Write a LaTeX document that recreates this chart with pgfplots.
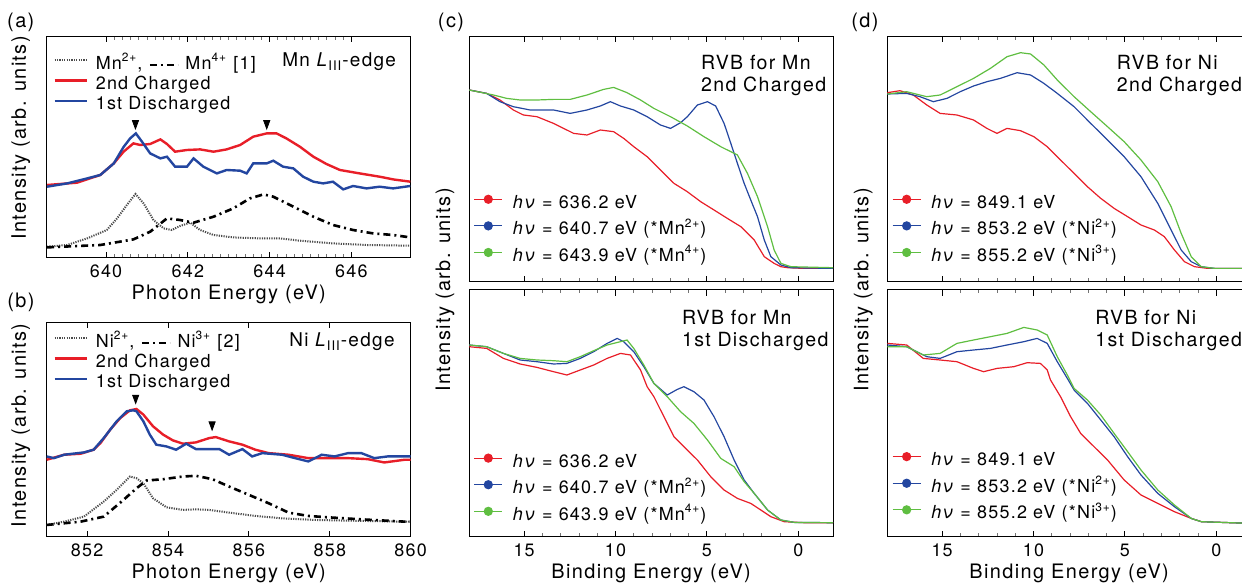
\documentclass[border=0pt]{standalone}
\usepackage{fontspec}
\setmainfont{TeX Gyre Heros}[LetterSpace=7]
\usepackage{pgfplots}
\pgfplotsset{compat=1.18}
\definecolor{cRed}{RGB}{232,30,40}
\definecolor{cBlue}{RGB}{35,70,160}
\definecolor{cGreen}{RGB}{95,190,65}
\newcommand{\fsz}[1]{\fontsize{#1}{#1}\selectfont}
\tikzset{rvbtext/.style={anchor=base west, font=\fsz{9.8}}}
\pgfplotsset{
  panel/.style={
    scale only axis, clip=false,
    axis line style={line width=0.5bp},
    ytick=\empty,
    tick align=inside,
    major tick length=2.6bp, minor tick length=1.7bp,
    every major tick/.append style={line width=0.45bp, black},
    every minor tick/.append style={line width=0.4bp, black!55},
    tick label style={font=\fsz{9}},
    /pgf/number format/assume math mode=true,
    label style={font=\fsz{10}},
    legend cell align=left,
  },
  xaslegend/.style={
    legend style={draw=none, fill=none, inner sep=0pt, font=\fsz{9},
      row sep=0.6bp, column sep=4bp,
      nodes={inner sep=0pt, text height=7bp, text depth=2.5bp}},
    legend image code/.code={\draw[##1] (0bp,2.3bp) -- (16bp,2.3bp);},
  },
  rvblegend/.style={
    legend style={draw=none, fill=none, inner sep=0pt, font=\fsz{9},
      row sep=3.8bp, column sep=5bp,
      nodes={inner sep=0pt, text height=7bp, text depth=2.5bp}},
    legend image code/.code={\draw[##1] (0bp,2.3bp) -- (14bp,2.3bp); \fill[##1] (7bp,2.3bp) circle (2bp);},
  },
  rvb/.style={panel, x dir=reverse, xmin=-1.9, xmax=18, xtick={0,5,10,15}, minor x tick num=4,
    width=181.85bp, major tick length=2.8bp},
  dotl/.style={line width=1bp, color=black!70, dash pattern=on 0.6bp off 0.6bp},
  dashdotl/.style={line width=1.3bp, color=black, dash pattern=on 3.5bp off 2bp on 1bp off 2bp},
  thickl/.style={line width=1.2bp},
  thinl/.style={line width=0.6bp},
}
\begin{document}
\begin{tikzpicture}
\useasboundingbox (0,0) rectangle (621bp,292.5bp);

% ---------------- (a) ----------------
\begin{axis}[panel, xaslegend, at={(23.35bp,163.65bp)}, anchor=south west,
  width=182bp, height=110.5bp,
  xmin=638.55, xmax=647.45, ymin=0, ymax=221,
  xtick={640,642,644,646}, minor x tick num=9,
  xlabel={Photon Energy (eV)}, ylabel={Intensity (arb. units)},
  xlabel style={at={(axis description cs:0.5,-0.165)}, anchor=center},
  ylabel style={at={(axis description cs:-0.071,0.542)}, anchor=center},
  legend style={at={(axis description cs:0.0173,0.917)}, anchor=north west}]
\addplot[dotl] coordinates {(638.56,11)(639.05,12.7)(639.54,19.3)(640.02,27.7)(640.27,39.3)(640.51,52.7)(640.72,63.7)(640.92,54.3)(641.16,37.7)(641.41,29.3)(641.61,27.7)(641.81,31.7)(642.06,35)(642.30,27.7)(642.63,22.7)(643.11,20.3)(643.76,19.3)(644.25,19.3)(644.74,17)(645.55,14.3)(646.37,12.7)(647.44,12)};
\addlegendentry{Mn\textsuperscript{2+}, \tikz[baseline=-2.3bp]\draw[line width=1.3bp, dash pattern=on 3.5bp off 2bp on 1bp off 2bp] (0,0)--(14bp,0); Mn\textsuperscript{4+} [1]}
\addplot[dashdotl, forget plot] coordinates {(638.56,10.3)(639.86,12.7)(640.67,18.3)(641.08,26)(641.49,39.3)(641.81,37.7)(642.14,35)(642.63,41)(643.11,49.3)(643.52,59.3)(643.85,63.3)(644.09,61)(644.58,51)(645.07,41)(645.55,32.7)(646.04,27.7)(646.53,24.3)(647.02,22.7)(647.44,20.3)};
\addplot[thickl, color=cRed] coordinates {(638.56,72.7)(639.29,75)(639.86,82.7)(640.19,94.3)(640.43,106)(640.67,114.3)(640.84,112.7)(641.08,113.7)(641.33,118.3)(641.49,113.7)(641.69,106)(641.98,107.7)(642.30,108.3)(642.63,106)(642.95,108.3)(643.28,112.7)(643.60,121)(643.93,124.3)(644.17,124.3)(644.41,119.3)(644.74,111)(645.07,101)(645.39,93.7)(645.72,87.7)(646.20,84.3)(646.69,81)(647.02,78.3)(647.44,76)};
\addlegendentry{2nd Charged}
\addplot[thickl, color=cBlue] coordinates {(638.56,71)(639.05,74.3)(639.54,79.3)(639.86,82.7)(640.19,94.3)(640.43,110.7)(640.59,119.3)(640.73,124.3)(640.88,116)(641.08,104.3)(641.33,99.3)(641.49,101)(641.69,91)(641.98,91)(642.14,99.3)(642.38,91)(642.71,84.3)(642.95,87.7)(643.28,87)(643.44,84.3)(643.60,94.3)(643.93,94.3)(644.09,97)(644.33,91)(644.58,89.3)(644.82,81)(645.07,76)(645.31,74.3)(645.55,76)(645.80,68.3)(646.04,71.7)(646.37,69.3)(646.69,71)(647.02,69.3)(647.44,71.7)};
\addlegendentry{1st Discharged}
\addplot[only marks, forget plot, mark=triangle*, mark size=2.2bp, mark options={rotate=180, xscale=0.8, yscale=1.25, fill=black}] coordinates {(640.72,134.3)(643.93,134.3)};
\node[anchor=base east, font=\fsz{9.5}] at (axis description cs:0.979,0.864) {Mn \textit{L}\textsubscript{III}-edge};
\end{axis}

% ---------------- (b) ----------------
\begin{axis}[panel, xaslegend, at={(23.35bp,24.15bp)}, anchor=south west,
  width=182bp, height=107bp,
  xmin=851, xmax=860, ymin=0, ymax=213.3,
  xtick={852,854,856,858,860},
  xlabel={Photon Energy (eV)}, ylabel={Intensity (arb. units)},
  xlabel style={at={(axis description cs:0.5,-0.17)}, anchor=center},
  ylabel style={at={(axis description cs:-0.071,0.52)}, anchor=center},
  legend style={at={(axis description cs:0.0173,0.951)}, anchor=north west}]
\addplot[dotl] coordinates {(851.0,11.7)(851.43,15)(851.92,20)(852.41,35)(852.73,46.7)(853.06,60)(853.22,58.3)(853.39,53.3)(853.63,38.3)(853.96,29.3)(854.37,26.7)(854.69,27.3)(855.02,26.7)(855.51,24)(856.16,20.7)(856.82,18.3)(857.63,16.7)(858.45,16)(859.85,15)(860,15)};
\addlegendentry{Ni\textsuperscript{2+}, \tikz[baseline=-2.3bp]\draw[line width=1.3bp, dash pattern=on 3.5bp off 2bp on 1bp off 2bp] (0,0)--(14bp,0); Ni\textsuperscript{3+} [2]}
\addplot[dashdotl, forget plot] coordinates {(851.0,11.7)(851.84,15)(852.41,20)(852.90,36.7)(853.22,48.3)(853.47,56)(853.88,57.3)(854.37,60)(854.69,60.7)(855.10,57.3)(855.51,50)(856.00,41.7)(856.49,33.3)(856.98,24)(857.47,20.7)(857.96,19.3)(858.78,17.3)(859.85,15)(860,15)};
\addplot[thickl, color=cRed] coordinates {(851.0,76.7)(851.43,81.7)(851.84,82.7)(852.16,86.7)(852.33,93.3)(852.57,106.7)(852.82,118.3)(853.06,126)(853.22,127.3)(853.39,121.7)(853.63,110)(853.88,101.7)(854.12,96)(854.37,92.7)(854.69,94)(855.02,98.3)(855.18,99.3)(855.51,95)(855.84,91.7)(856.16,86.7)(856.49,83.3)(856.98,81.7)(857.47,78.3)(857.96,78.3)(858.45,78.3)(858.94,77.3)(859.35,74)(859.85,76.7)(860,76.7)};
\addlegendentry{2nd Charged}
\addplot[thickl, color=cBlue] coordinates {(851.0,80)(851.18,78.3)(851.43,81.7)(851.92,84)(852.16,86.7)(852.41,98.3)(852.73,115)(852.98,125)(853.14,126)(853.22,125)(853.39,115)(853.55,101.7)(853.71,91.7)(853.96,90)(854.20,86.7)(854.45,92.7)(854.69,87.3)(855.02,87.3)(855.27,87.3)(855.51,81.7)(855.84,87.3)(856.08,80)(856.33,83.3)(856.82,81.7)(857.14,78.3)(857.47,75)(857.80,81.7)(858.12,80)(858.45,83.3)(858.78,83.3)(859.10,78.3)(859.43,80)(859.85,80)(860,80)};
\addlegendentry{1st Discharged}
\addplot[only marks, forget plot, mark=triangle*, mark size=2.2bp, mark options={rotate=180, xscale=0.8, yscale=1.25, fill=black}] coordinates {(853.2,138.3)(855.09,111.7)};
\node[anchor=base east, font=\fsz{9.5}] at (axis description cs:0.975,0.888) {Ni \textit{L}\textsubscript{III}-edge};
\end{axis}

% ---------------- (c) top ----------------
\begin{axis}[rvb, rvblegend, at={(234.65bp,151.65bp)}, anchor=south west,
  height=122.5bp, ymin=0, ymax=245, xticklabel=\empty,
  legend style={at={(axis description cs:0.011,0.358)}, anchor=north west}]
\addplot[thinl, color=cRed] coordinates {(18.0,191.7)(17.05,188.3)(16.32,181.7)(15.59,171.7)(15.04,166.7)(14.30,165)(13.39,158.3)(12.84,153.3)(12.29,148.3)(11.56,146.7)(10.83,151.7)(10.10,150)(9.55,143.3)(9.00,135)(8.27,125)(7.54,111.7)(6.80,98.3)(6.07,90)(5.34,80)(4.61,71.7)(3.88,63.3)(3.14,55)(2.41,41.7)(1.86,25)(1.32,18.3)(0.95,15)(0.58,14)(-0.33,13.3)(-1.9,13.3)};
\addlegendentry{\textit{hν} = 636.2 eV}
\addplot[thinl, color=cBlue] coordinates {(18.0,191.7)(17.05,188.3)(16.32,180)(15.59,175)(14.67,171.7)(13.39,171.7)(12.48,168.3)(11.56,171.7)(10.83,175.7)(10.28,180)(9.73,175.7)(9.00,171.7)(8.27,165)(7.54,156.7)(6.99,153.3)(6.44,159)(6.07,165)(5.52,176.7)(4.97,180)(4.52,175.7)(4.06,158.3)(3.69,138.3)(3.33,118.3)(2.96,98.3)(2.60,81.7)(2.23,65)(1.86,41.7)(1.50,25)(0.95,16.7)(0.40,14)(-1.9,13.3)};
\addlegendentry{\textit{hν} = 640.7 eV (*Mn\textsuperscript{2+})}
\addplot[thinl, color=cGreen] coordinates {(18.0,191.7)(16.68,186.7)(15.95,183.3)(15.22,181.7)(14.30,181.7)(13.39,182.3)(12.48,182.3)(11.56,186.7)(10.65,192.3)(10.10,194.3)(9.37,189)(8.63,181.7)(7.90,173.3)(6.99,165)(6.07,155.7)(5.16,145)(4.24,135)(3.33,126.7)(2.78,108.3)(2.23,85)(1.68,55)(1.32,31.7)(0.95,18.3)(0.40,15)(-1.9,14)};
\addlegendentry{\textit{hν} = 643.9 eV (*Mn\textsuperscript{4+})}
\node[rvbtext] at (axis description cs:0.618,0.867) {RVB for Mn};
\node[rvbtext] at (axis description cs:0.618,0.7755) {2nd Charged};
\end{axis}

% ---------------- (c) bottom ----------------
\begin{axis}[rvb, rvblegend, at={(234.65bp,24.15bp)}, anchor=south west,
  height=123.35bp, ymin=0, ymax=246.7,
  xlabel={Binding Energy (eV)}, ylabel={Intensity (arb. units)},
  xlabel style={at={(axis description cs:0.5,-0.147)}, anchor=center},
  ylabel style={at={(axis description cs:-0.067,1.0)}, anchor=center},
  legend style={at={(axis description cs:0.011,0.340)}, anchor=north west}]
\addplot[thinl, color=cRed] coordinates {(18.0,190)(17.05,188.3)(16.13,178.3)(15.22,172.7)(14.30,169.3)(13.39,165)(12.66,161.7)(11.93,166.7)(11.19,171.7)(10.46,178.3)(9.73,183.3)(9.18,181.7)(8.63,166.7)(8.27,150)(7.90,140)(7.35,120)(6.80,100)(6.26,90)(5.52,76.7)(4.79,60)(4.06,46.7)(3.33,38.3)(2.60,33.3)(2.05,26.7)(1.50,20)(0.77,15)(-0.33,14)(-1.9,14)};
\addlegendentry{\textit{hν} = 636.2 eV}
\addplot[thinl, color=cBlue] coordinates {(18.0,191.7)(17.05,190)(16.13,183.3)(15.22,176.7)(14.30,175)(13.39,172.7)(12.66,173.3)(11.93,178.3)(11.19,185)(10.46,193.3)(9.91,198.3)(9.55,195)(9.00,185)(8.45,170)(7.90,153.3)(7.17,141.7)(6.62,147.3)(6.26,150)(5.71,145)(5.16,136.7)(4.61,120)(4.06,100)(3.51,76.7)(2.96,56.7)(2.41,43.3)(1.68,26.7)(0.95,16.7)(0.22,14.3)(-1.9,14)};
\addlegendentry{\textit{hν} = 640.7 eV (*Mn\textsuperscript{2+})}
\addplot[thinl, color=cGreen] coordinates {(18.0,191.7)(17.05,190)(16.13,183.3)(15.22,178.3)(14.30,176.7)(13.39,176)(12.66,175)(11.93,180)(11.19,186)(10.46,191.7)(9.73,195)(9.37,196.7)(9.00,188.3)(8.45,171.7)(7.90,153.3)(7.17,140)(6.44,125)(5.71,113.3)(4.97,96.7)(4.24,78.3)(3.51,70)(2.96,55)(2.41,43.3)(1.68,26.7)(0.95,16.7)(0.22,14.3)(-1.9,14)};
\addlegendentry{\textit{hν} = 643.9 eV (*Mn\textsuperscript{4+})}
\node[rvbtext] at (axis description cs:0.5656,0.862) {RVB for Mn};
\node[rvbtext] at (axis description cs:0.5656,0.770) {1st Discharged};
\end{axis}

% ---------------- (d) top ----------------
\begin{axis}[rvb, rvblegend, at={(443.65bp,151.65bp)}, anchor=south west,
  height=122.5bp, ymin=0, ymax=245, xticklabel=\empty,
  legend style={at={(axis description cs:0.012,0.358)}, anchor=north west}]
\addplot[thinl, color=cRed] coordinates {(18.0,189)(17.31,191)(16.58,186.7)(15.84,176.7)(15.11,168.3)(14.19,166.7)(13.28,161.7)(12.55,153.3)(12.0,148.3)(11.45,153.3)(10.71,151)(9.98,145)(9.25,135)(8.52,121.7)(7.78,108.3)(7.05,95)(6.32,83.3)(5.59,73.3)(4.85,65)(4.12,56.7)(3.39,51.7)(2.84,45)(2.29,31.7)(1.74,20)(1.19,15)(0.46,13.3)(-1.9,13.3)};
\addlegendentry{\textit{hν} = 849.1 eV}
\addplot[thinl, color=cBlue] coordinates {(18.0,187.7)(16.94,188.3)(16.21,185)(15.48,180)(14.74,183.3)(14.01,190)(13.28,195.7)(12.55,200)(11.81,203.3)(10.90,209)(10.16,206.7)(9.43,198.3)(8.70,188.3)(7.78,175)(6.87,158.3)(5.95,141.7)(5.04,125)(4.12,105)(3.20,78.3)(2.47,51.7)(1.92,31.7)(1.37,20)(0.82,15)(0.09,13.3)(-1.9,13.3)};
\addlegendentry{\textit{hν} = 853.2 eV (*Ni\textsuperscript{2+})}
\addplot[thinl, color=cGreen] coordinates {(18.0,187.7)(16.94,190)(15.84,185)(15.11,186.7)(14.19,195)(13.28,203.3)(12.36,213.3)(11.45,225)(10.71,229)(10.16,227.7)(9.43,216.7)(8.70,201.7)(7.78,185)(6.87,170)(5.95,155)(5.04,140)(4.12,121.7)(3.20,100)(2.47,75)(1.92,48.3)(1.37,25)(0.82,15)(0.09,13.3)(-1.9,13.3)};
\addlegendentry{\textit{hν} = 855.2 eV (*Ni\textsuperscript{3+})}
\node[rvbtext] at (axis description cs:0.612,0.867) {RVB for Ni};
\node[rvbtext] at (axis description cs:0.612,0.7755) {2nd Charged};
\end{axis}

% ---------------- (d) bottom ----------------
\begin{axis}[rvb, rvblegend, at={(443.65bp,24.15bp)}, anchor=south west,
  height=123.35bp, ymin=0, ymax=246.7,
  xlabel={Binding Energy (eV)}, ylabel={Intensity (arb. units)},
  xlabel style={at={(axis description cs:0.5,-0.147)}, anchor=center},
  ylabel style={at={(axis description cs:-0.066,1.0)}, anchor=center},
  legend style={at={(axis description cs:0.012,0.346)}, anchor=north west}]
\addplot[thinl, color=cRed] coordinates {(18.0,193.3)(16.94,191.7)(16.03,178.3)(15.11,176.7)(14.19,175)(13.28,168.3)(12.73,165)(12.0,168.3)(11.08,170)(10.35,174)(9.62,173.3)(9.25,166.7)(9.07,156.7)(8.52,140)(7.97,120)(7.42,103.3)(6.87,93.3)(5.95,76.7)(5.04,56.7)(4.12,41.7)(3.20,33.3)(2.29,25)(1.37,18.3)(0.82,15)(-1.9,13.3)};
\addlegendentry{\textit{hν} = 849.1 eV}
\addplot[thinl, color=cBlue] coordinates {(18.0,191.7)(16.94,190)(15.84,180)(15.11,178.3)(14.19,185)(13.28,186.7)(12.36,188.3)(11.45,191.7)(10.53,195)(9.80,198.3)(9.25,193.3)(8.70,175)(8.15,158.3)(7.78,146.7)(7.05,133.3)(6.32,116.7)(5.59,100)(4.85,80)(4.12,61.7)(3.20,43.3)(2.29,30)(1.37,18.3)(0.82,15)(-1.9,13.3)};
\addlegendentry{\textit{hν} = 853.2 eV (*Ni\textsuperscript{2+})}
\addplot[thinl, color=cGreen] coordinates {(18.0,190)(16.94,190)(16.03,181.7)(15.11,183.3)(14.19,193.3)(13.28,196.7)(12.36,200)(11.45,203.3)(10.53,209.3)(9.80,206.7)(9.25,201.7)(8.70,180)(8.15,161.7)(7.78,148.3)(7.05,136.7)(6.32,121.7)(5.59,103.3)(4.85,85)(4.12,66.7)(3.20,46.7)(2.29,31.7)(1.37,18.3)(0.82,15)(-1.9,13.3)};
\addlegendentry{\textit{hν} = 855.2 eV (*Ni\textsuperscript{3+})}
\node[rvbtext] at (axis description cs:0.553,0.862) {RVB for Ni};
\node[rvbtext] at (axis description cs:0.553,0.770) {1st Discharged};
\end{axis}

% panel labels
\node[font=\fsz{10}] at (10.4bp,281.5bp) {(a)};
\node[font=\fsz{10}] at (10.5bp,141.5bp) {(b)};
\node[font=\fsz{10}] at (225.5bp,281.25bp) {(c)};
\node[font=\fsz{10}] at (432.5bp,281.5bp) {(d)};
\end{tikzpicture}
\end{document}
